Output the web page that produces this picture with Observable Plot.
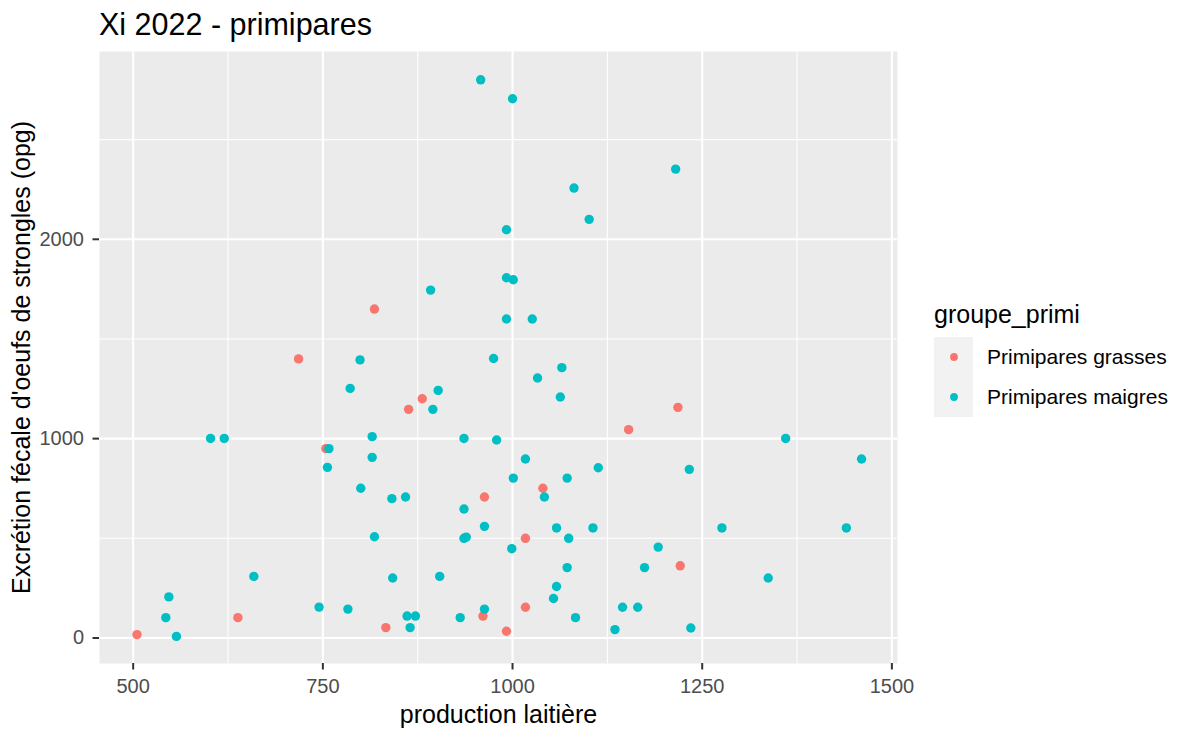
<!DOCTYPE html>
<html><head><meta charset="utf-8">
<script src="https://cdn.jsdelivr.net/npm/d3@7"></script>
<script src="https://cdn.jsdelivr.net/npm/@observablehq/plot@0.6"></script>
<style>
body{margin:0;background:#fff;font-family:"Liberation Sans",Arial,sans-serif;}
#wrap{position:relative;width:1183px;height:729px;overflow:hidden;}
#chart{position:absolute;left:0;top:0;}
#title{position:absolute;left:99px;top:9px;font-size:30.5px;line-height:1;color:#000;white-space:nowrap;}
#legend{position:absolute;left:934px;top:302px;color:#000;}
#legend .lt{font-size:25px;line-height:1;white-space:nowrap;}
#legend .rows{margin-top:10px;}
#legend .row{display:flex;align-items:center;height:40px;}
#legend .key{width:39px;height:40px;background:#F2F2F2;display:flex;align-items:center;justify-content:center;}
#legend .lab{font-size:21px;margin-left:14px;white-space:nowrap;}
</style></head>
<body>
<div id="wrap">
  <div id="chart"></div>
  <div id="title">Xi 2022 - primipares</div>
  <div id="legend"></div>
</div>
<script>
const groups = ["Primipares grasses", "Primipares maigres"];
const groupColors = ["#F8766D", "#00BFC4"];

const grassesX = [818, 718, 754, 638, 833, 505, 881, 863, 1218, 1153, 1040, 963, 1017, 1221, 1017, 961, 992];
const grassesY = [1650, 1400, 950, 102, 52, 17, 1200, 1147, 1157, 1045, 751, 707, 500, 362, 154, 110, 34];

const maigresX = [799, 958, 1000, 1215, 1081, 1101, 992, 992, 1001, 892,
  992, 1026, 975, 786, 602, 620, 815, 758, 815, 756,
  800, 818, 659, 547, 543, 745, 783, 557, 1065, 1033,
  902, 1063, 895, 936, 979, 1017, 1113, 1001, 1072, 1042,
  841, 859, 936, 963, 1058, 1106, 936, 939, 1074, 999,
  1192, 842, 904, 1072, 1174, 1058, 1054, 963, 1145, 1165,
  861, 872, 931, 1083, 865, 1135, 1360, 1460, 1233, 1276,
  1440, 1337, 1235];
const maigresY = [1395, 2800, 2705, 2352, 2257, 2100, 2048, 1807, 1797, 1745,
  1600, 1600, 1402, 1252, 1001, 1001, 1010, 950, 906, 856,
  751, 508, 309, 206, 102, 155, 145, 8, 1356, 1304,
  1242, 1209, 1147, 1001, 993, 898, 854, 802, 802, 707,
  699, 707, 647, 560, 552, 552, 500, 506, 500, 448,
  456, 301, 309, 353, 353, 258, 198, 145, 154, 154,
  110, 110, 102, 102, 52, 42, 1001, 898, 846, 552,
  552, 301, 50];

const xTicks = [500, 750, 1000, 1250, 1500];
const xMinor = [625, 875, 1125, 1375];
const yTicks = [0, 1000, 2000];
const yMinor = [500, 1500, 2500];

const xTitle = "production laitière";
const yTitle = "Excrétion fécale d'oeufs de strongles (opg)";
const legendTitle = "groupe_primi";

const data = [
  ...grassesX.map((x, i) => ({x, y: grassesY[i], g: groups[0]})),
  ...maigresX.map((x, i) => ({x, y: maigresY[i], g: groups[1]}))
];

const font = '"Liberation Sans", Arial, sans-serif';

const plot = Plot.plot({
  width: 1183,
  height: 729,
  marginLeft: 99,
  marginRight: 286,
  marginTop: 51,
  marginBottom: 66,
  style: {fontFamily: font, background: "transparent", overflow: "visible"},
  x: {domain: [455.6, 1507.4]},
  y: {domain: [-128, 2942]},
  color: {domain: groups, range: groupColors},
  marks: [
    Plot.frame({fill: "#EBEBEB", stroke: null}),
    Plot.ruleX(xMinor, {stroke: "#FFFFFF", strokeWidth: 1.1}),
    Plot.ruleY(yMinor, {stroke: "#FFFFFF", strokeWidth: 1.1}),
    Plot.ruleX(xTicks, {stroke: "#FFFFFF", strokeWidth: 2.1}),
    Plot.ruleY(yTicks, {stroke: "#FFFFFF", strokeWidth: 2.1}),
    Plot.axisX({ticks: xTicks, tickSize: 6.5, tickPadding: 9, stroke: "#333333", strokeWidth: 2, fill: "#4D4D4D", fontSize: 20, label: null, tickFormat: d => String(d)}),
    Plot.axisY({ticks: yTicks, tickSize: 6.5, tickPadding: 9, stroke: "#333333", strokeWidth: 2, fill: "#4D4D4D", fontSize: 20, label: null, tickFormat: d => String(d)}),
    Plot.dot(data, {x: "x", y: "y", fill: "g", r: 4.7, stroke: null}),
    Plot.text([xTitle], {frameAnchor: "bottom", dy: 51, lineAnchor: "middle", fontSize: 25, fill: "#000", text: d => d}),
    Plot.text([yTitle], {frameAnchor: "left", dx: -77.5, rotate: -90, lineAnchor: "middle", textAnchor: "middle", fontSize: 25, fill: "#000", text: d => d})
  ]
});
document.getElementById("chart").appendChild(plot);

const legend = d3.select("#legend");
legend.append("div").attr("class", "lt").text(legendTitle);
const rows = legend.append("div").attr("class", "rows");
groups.forEach((g, i) => {
  const row = rows.append("div").attr("class", "row");
  const key = row.append("div").attr("class", "key");
  key.append("svg").attr("width", 10).attr("height", 10)
    .append("circle").attr("cx", 5).attr("cy", 5).attr("r", 3.9).attr("fill", groupColors[i]);
  row.append("div").attr("class", "lab").text(g);
});
</script>
</body></html>
